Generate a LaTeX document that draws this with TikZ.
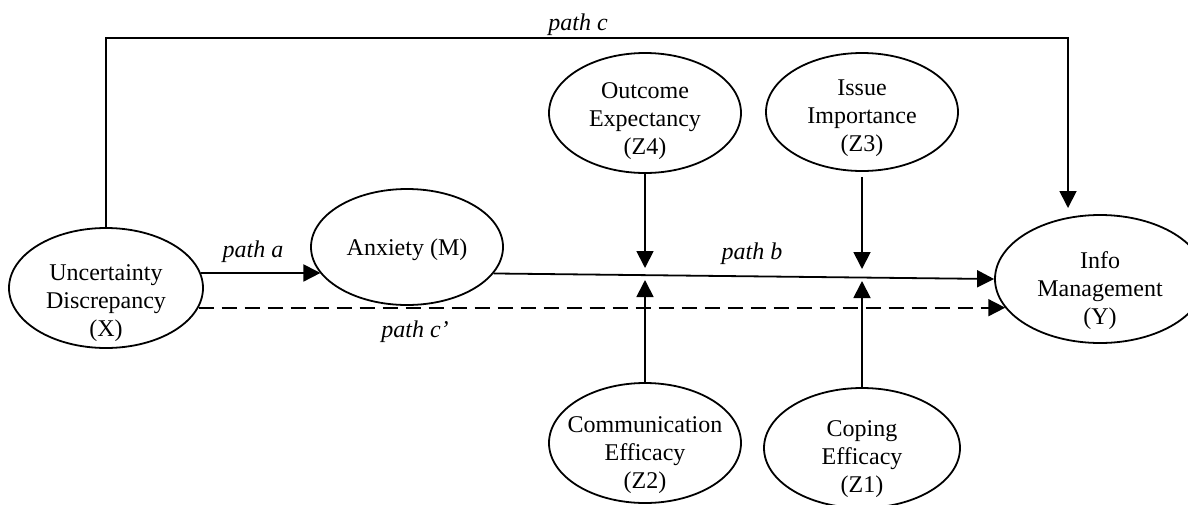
\documentclass[tikz,border=0pt]{standalone}
\usepackage{fontspec}
\setmainfont{Liberation Serif}
\usetikzlibrary{shapes.geometric,arrows.meta}

\begin{document}
\begin{tikzpicture}[x=0.5pt,y=-0.5pt,
        var/.style={ellipse,draw,line width=0.9pt,inner sep=0pt},
        txt/.style={align=center,font=\fontsize{12pt}{14pt}\selectfont},
        plab/.style={font=\fontsize{12pt}{14pt}\selectfont\itshape},
        arr/.style={line width=0.9pt,-{Triangle[width=8.5pt,length=8.5pt]}}]
                \useasboundingbox (0,0) rectangle (1188,504);
                \node[var,minimum width=97pt,minimum height=60pt,
                    label={[txt,yshift=-7.5pt]center:{Uncertainty\\Discrepancy\\(X)}}] (X) at (106,288) {};
                \node[var,minimum width=96pt,minimum height=58pt,
                    label={[txt,yshift=-1.5pt]center:{Anxiety (M)}}] (M) at (407,247) {};
                \node[var,minimum width=96pt,minimum height=60pt,
                    label={[txt,yshift=-4pt]center:{Outcome\\Expectancy\\(Z4)}}] (Z4) at (645,113) {};
                \node[var,minimum width=96pt,minimum height=59pt,
                    label={[txt,yshift=-3pt]center:{Issue\\Importance\\(Z3)}}] (Z3) at (862,112) {};
                \node[var,minimum width=96pt,minimum height=60pt,
                    label={[txt,yshift=-6pt]center:{Communication\\Efficacy\\(Z2)}}] (Z2) at (645,443) {};
                \node[var,minimum width=98pt,minimum height=60pt,
                    label={[txt,yshift=-5.5pt]center:{Coping\\Efficacy\\(Z1)}}] (Z1) at (862,448) {};
                \node[var,minimum width=105pt,minimum height=64pt,
                    label={[txt,yshift=-6pt]center:{Info\\Management\\(Y)}}] (Y) at (1100,279) {};
                \coordinate (cTop) at (1068,38);
                \coordinate (cEnd) at (1068,208);
                \coordinate (m4) at (645,268);
                \coordinate (m3) at (862,269);
                \coordinate (m2) at (645,280);
                \coordinate (m1) at (862,281);
                \draw[arr] (X.north) |- (cTop) -- (cEnd);
                \draw[arr] (X.9) -- (X.9 -| M.197);
                \draw[arr] (M.-17) -- (Y.west);
                \draw[arr,dash pattern=on 7.5pt off 4pt] (X.-12) -- (X.-12 -| Y.197);
                \draw[arr] (Z4.south) -- (m4);
                \draw[arr] (Z3.south) ++(0,5) -- (m3);
                \draw[arr] (Z2.north) -- (m2);
                \draw[arr] (Z1.north) -- (m1);
                \node[plab] (pa) at (253,252) {path a};
                \node[plab] (pb) at (752,254) {path b};
                \node[plab] (pc) at (578,25) {path c};
                \node[plab] (pc2) at (415,332) {path c’};
            \end{tikzpicture}
\end{document}
